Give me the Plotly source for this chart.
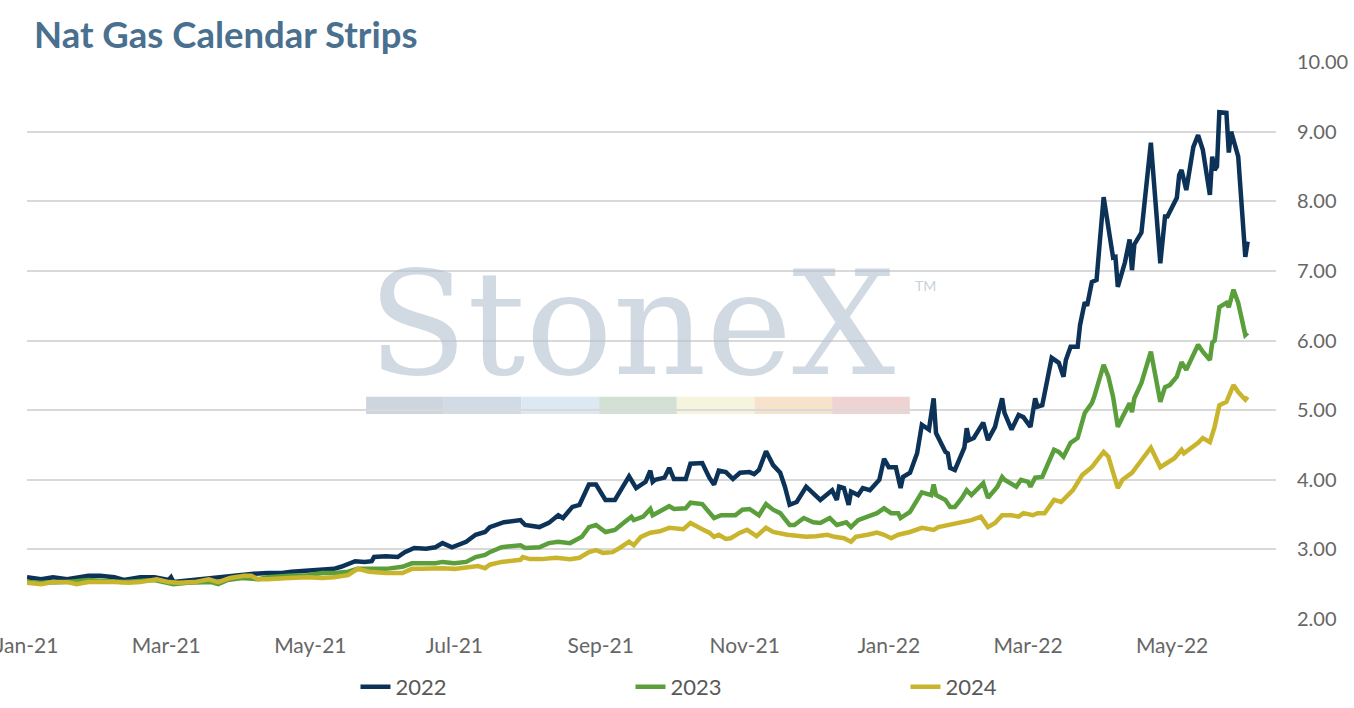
import plotly.graph_objects as go

# Nat gas calendar strip settlements
dates_2022 = [
    "2021-01-01", "2021-01-07", "2021-01-12", "2021-01-18", "2021-01-27", "2021-02-01",
    "2021-02-07", "2021-02-11", "2021-02-18", "2021-02-24", "2021-03-02", "2021-03-03",
    "2021-03-04", "2021-03-10", "2021-03-16", "2021-03-21", "2021-03-27", "2021-04-02",
    "2021-04-07", "2021-04-13", "2021-04-19", "2021-04-23", "2021-04-30", "2021-05-06",
    "2021-05-11", "2021-05-14", "2021-05-20", "2021-05-24", "2021-05-27", "2021-05-28",
    "2021-06-02", "2021-06-07", "2021-06-10", "2021-06-14", "2021-06-19", "2021-06-23",
    "2021-06-26", "2021-06-30", "2021-07-06", "2021-07-10", "2021-07-14", "2021-07-16",
    "2021-07-22", "2021-07-29", "2021-07-31", "2021-08-06", "2021-08-10", "2021-08-14",
    "2021-08-16", "2021-08-20", "2021-08-23", "2021-08-27", "2021-08-30", "2021-09-03",
    "2021-09-07", "2021-09-10", "2021-09-13", "2021-09-16", "2021-09-20", "2021-09-22",
    "2021-09-23", "2021-09-24", "2021-09-28", "2021-09-30", "2021-10-02", "2021-10-07",
    "2021-10-08", "2021-10-09", "2021-10-14", "2021-10-17", "2021-10-19", "2021-10-21",
    "2021-10-24", "2021-10-27", "2021-10-30", "2021-11-03", "2021-11-05", "2021-11-07",
    "2021-11-10", "2021-11-13", "2021-11-16", "2021-11-18", "2021-11-20", "2021-11-23",
    "2021-11-27", "2021-11-30", "2021-12-03", "2021-12-08", "2021-12-10", "2021-12-11",
    "2021-12-13", "2021-12-15", "2021-12-16", "2021-12-19", "2021-12-21", "2021-12-24",
    "2021-12-28", "2021-12-30", "2022-01-01", "2022-01-04", "2022-01-06", "2022-01-07",
    "2022-01-10", "2022-01-13", "2022-01-15", "2022-01-18", "2022-01-20", "2022-01-21",
    "2022-01-25", "2022-01-26", "2022-01-27", "2022-01-29", "2022-02-02", "2022-02-03",
    "2022-02-04", "2022-02-06", "2022-02-10", "2022-02-12", "2022-02-15", "2022-02-16",
    "2022-02-18", "2022-02-19", "2022-02-22", "2022-02-25", "2022-02-27", "2022-03-02",
    "2022-03-04", "2022-03-05", "2022-03-07", "2022-03-11", "2022-03-14", "2022-03-16",
    "2022-03-17", "2022-03-19", "2022-03-22", "2022-03-23", "2022-03-25", "2022-03-26",
    "2022-03-28", "2022-03-30", "2022-04-02", "2022-04-06", "2022-04-07", "2022-04-08",
    "2022-04-10", "2022-04-11", "2022-04-13", "2022-04-14", "2022-04-15", "2022-04-18",
    "2022-04-22", "2022-04-26", "2022-04-28", "2022-04-29", "2022-05-03", "2022-05-04",
    "2022-05-05", "2022-05-07", "2022-05-10", "2022-05-12", "2022-05-14", "2022-05-17",
    "2022-05-18", "2022-05-19", "2022-05-20", "2022-05-21", "2022-05-24", "2022-05-25",
    "2022-05-26", "2022-05-27", "2022-05-29", "2022-06-01", "2022-06-02",
]
strip_2022 = [
    2.60, 2.57, 2.60, 2.57, 2.62, 2.62,
    2.60, 2.56, 2.60, 2.60, 2.56, 2.60,
    2.53, 2.55, 2.57, 2.59, 2.62, 2.63,
    2.65, 2.66, 2.66, 2.68, 2.69, 2.70,
    2.72, 2.75, 2.83, 2.82, 2.83, 2.89,
    2.90, 2.89, 2.96, 3.02, 3.01, 3.03,
    3.09, 3.03, 3.11, 3.21, 3.25, 3.32,
    3.39, 3.42, 3.35, 3.32, 3.38, 3.49,
    3.45, 3.61, 3.64, 3.93, 3.93, 3.71,
    3.71, 3.88, 4.05, 3.88, 3.97, 4.13,
    3.97, 4.00, 4.03, 4.17, 4.01, 4.01,
    4.10, 4.23, 4.24, 4.03, 3.93, 4.13,
    4.11, 4.01, 4.10, 4.11, 4.08, 4.14,
    4.41, 4.21, 4.10, 3.90, 3.64, 3.68,
    3.90, 3.81, 3.71, 3.85, 3.71, 3.90,
    3.88, 3.64, 3.83, 3.78, 3.88, 3.85,
    4.00, 4.30, 4.18, 4.18, 3.88, 4.04,
    4.10, 4.38, 4.79, 4.72, 5.17, 4.67,
    4.40, 4.38, 4.17, 4.14, 4.46, 4.74,
    4.57, 4.60, 4.82, 4.57, 4.76, 4.90,
    5.17, 4.96, 4.72, 4.93, 4.90, 4.76,
    5.17, 5.05, 5.07, 5.75, 5.68, 5.48,
    5.72, 5.91, 5.91, 6.22, 6.55, 6.50,
    6.84, 6.87, 8.06, 7.19, 7.20, 6.77,
    7.00, 7.12, 7.45, 7.01, 7.38, 7.55,
    8.84, 7.11, 7.78, 7.78, 8.05, 8.38,
    8.45, 8.16, 8.78, 8.95, 8.74, 8.09,
    8.64, 8.45, 8.50, 9.28, 9.27, 8.70,
    9.00, 8.88, 8.64, 7.20, 7.42,
]

dates_2023 = [
    "2021-01-01", "2021-01-07", "2021-01-18", "2021-01-27", "2021-02-11", "2021-02-24",
    "2021-03-04", "2021-03-10", "2021-03-20", "2021-03-23", "2021-03-27", "2021-04-02",
    "2021-04-09", "2021-04-13", "2021-04-22", "2021-04-30", "2021-05-06", "2021-05-11",
    "2021-05-17", "2021-05-21", "2021-05-26", "2021-06-02", "2021-06-09", "2021-06-13",
    "2021-06-17", "2021-06-23", "2021-06-26", "2021-07-01", "2021-07-06", "2021-07-10",
    "2021-07-14", "2021-07-16", "2021-07-21", "2021-07-29", "2021-07-31", "2021-08-06",
    "2021-08-10", "2021-08-14", "2021-08-19", "2021-08-24", "2021-08-27", "2021-08-30",
    "2021-09-03", "2021-09-07", "2021-09-11", "2021-09-14", "2021-09-15", "2021-09-19",
    "2021-09-22", "2021-09-23", "2021-09-30", "2021-10-02", "2021-10-07", "2021-10-09",
    "2021-10-14", "2021-10-17", "2021-10-19", "2021-10-22", "2021-10-28", "2021-10-31",
    "2021-11-03", "2021-11-07", "2021-11-10", "2021-11-13", "2021-11-16", "2021-11-20",
    "2021-11-22", "2021-11-26", "2021-11-30", "2021-12-03", "2021-12-07", "2021-12-10",
    "2021-12-14", "2021-12-16", "2021-12-19", "2021-12-23", "2021-12-27", "2021-12-30",
    "2022-01-02", "2022-01-05", "2022-01-06", "2022-01-10", "2022-01-15", "2022-01-19",
    "2022-01-20", "2022-01-21", "2022-01-25", "2022-01-27", "2022-01-29", "2022-02-01",
    "2022-02-03", "2022-02-05", "2022-02-10", "2022-02-12", "2022-02-16", "2022-02-18",
    "2022-02-19", "2022-02-24", "2022-02-26", "2022-03-01", "2022-03-02", "2022-03-04",
    "2022-03-07", "2022-03-12", "2022-03-14", "2022-03-16", "2022-03-19", "2022-03-22",
    "2022-03-25", "2022-03-28", "2022-03-29", "2022-04-02", "2022-04-04", "2022-04-06",
    "2022-04-08", "2022-04-10", "2022-04-13", "2022-04-14", "2022-04-15", "2022-04-18",
    "2022-04-22", "2022-04-26", "2022-04-28", "2022-04-30", "2022-05-03", "2022-05-05",
    "2022-05-07", "2022-05-12", "2022-05-14", "2022-05-17", "2022-05-18", "2022-05-19",
    "2022-05-21", "2022-05-24", "2022-05-25", "2022-05-27", "2022-05-29", "2022-06-01",
    "2022-06-02",
]
strip_2023 = [
    2.53, 2.52, 2.53, 2.56, 2.53, 2.56,
    2.50, 2.52, 2.53, 2.50, 2.56, 2.59,
    2.57, 2.60, 2.62, 2.63, 2.66, 2.66,
    2.68, 2.72, 2.72, 2.72, 2.75, 2.80,
    2.80, 2.80, 2.82, 2.80, 2.82, 2.89,
    2.92, 2.96, 3.03, 3.06, 3.02, 3.03,
    3.09, 3.11, 3.09, 3.18, 3.32, 3.35,
    3.25, 3.28, 3.39, 3.47, 3.42, 3.47,
    3.58, 3.49, 3.62, 3.58, 3.59, 3.67,
    3.65, 3.52, 3.45, 3.49, 3.49, 3.57,
    3.58, 3.49, 3.65, 3.57, 3.52, 3.35,
    3.35, 3.45, 3.39, 3.38, 3.45, 3.35,
    3.39, 3.32, 3.42, 3.47, 3.52, 3.59,
    3.52, 3.52, 3.45, 3.54, 3.82, 3.78,
    3.93, 3.78, 3.71, 3.61, 3.61, 3.74,
    3.85, 3.78, 3.95, 3.74, 3.90, 4.04,
    4.00, 3.90, 4.00, 3.97, 3.90, 4.03,
    4.04, 4.43, 4.40, 4.33, 4.53, 4.60,
    4.96, 5.10, 5.19, 5.65, 5.48, 5.19,
    4.76, 4.90, 5.10, 4.97, 5.17, 5.39,
    5.84, 5.12, 5.33, 5.36, 5.48, 5.69,
    5.58, 5.94, 5.84, 5.72, 5.97, 6.00,
    6.48, 6.54, 6.48, 6.73, 6.54, 6.08,
    6.11,
]

dates_2024 = [
    "2021-01-01", "2021-01-07", "2021-01-12", "2021-01-18", "2021-01-22", "2021-01-27",
    "2021-02-07", "2021-02-13", "2021-02-18", "2021-02-25", "2021-03-02", "2021-03-06",
    "2021-03-13", "2021-03-19", "2021-03-23", "2021-03-28", "2021-04-03", "2021-04-06",
    "2021-04-09", "2021-04-13", "2021-04-22", "2021-04-30", "2021-05-06", "2021-05-11",
    "2021-05-17", "2021-05-21", "2021-05-26", "2021-06-02", "2021-06-09", "2021-06-13",
    "2021-06-17", "2021-06-23", "2021-06-26", "2021-07-01", "2021-07-11", "2021-07-14",
    "2021-07-16", "2021-07-21", "2021-07-29", "2021-07-30", "2021-08-02", "2021-08-07",
    "2021-08-13", "2021-08-19", "2021-08-23", "2021-08-27", "2021-08-30", "2021-09-02",
    "2021-09-06", "2021-09-09", "2021-09-13", "2021-09-15", "2021-09-18", "2021-09-22",
    "2021-09-26", "2021-09-30", "2021-10-06", "2021-10-09", "2021-10-11", "2021-10-14",
    "2021-10-17", "2021-10-19", "2021-10-21", "2021-10-24", "2021-10-26", "2021-10-30",
    "2021-11-02", "2021-11-06", "2021-11-10", "2021-11-13", "2021-11-19", "2021-11-23",
    "2021-11-27", "2021-12-01", "2021-12-06", "2021-12-09", "2021-12-13", "2021-12-16",
    "2021-12-18", "2021-12-23", "2021-12-27", "2021-12-30", "2022-01-02", "2022-01-05",
    "2022-01-10", "2022-01-15", "2022-01-20", "2022-01-22", "2022-01-27", "2022-02-01",
    "2022-02-05", "2022-02-09", "2022-02-12", "2022-02-15", "2022-02-18", "2022-02-22",
    "2022-02-25", "2022-02-27", "2022-03-03", "2022-03-05", "2022-03-08", "2022-03-12",
    "2022-03-15", "2022-03-20", "2022-03-22", "2022-03-24", "2022-03-28", "2022-04-02",
    "2022-04-04", "2022-04-08", "2022-04-10", "2022-04-14", "2022-04-18", "2022-04-22",
    "2022-04-26", "2022-04-29", "2022-05-02", "2022-05-05", "2022-05-06", "2022-05-12",
    "2022-05-14", "2022-05-17", "2022-05-19", "2022-05-21", "2022-05-24", "2022-05-27",
    "2022-05-29", "2022-06-01", "2022-06-02",
]
strip_2024 = [
    2.52, 2.50, 2.53, 2.53, 2.50, 2.53,
    2.53, 2.52, 2.53, 2.57, 2.53, 2.52,
    2.53, 2.57, 2.53, 2.59, 2.62, 2.62,
    2.57, 2.57, 2.59, 2.60, 2.59, 2.60,
    2.63, 2.72, 2.68, 2.66, 2.66, 2.72,
    2.72, 2.73, 2.73, 2.72, 2.76, 2.73,
    2.78, 2.82, 2.85, 2.89, 2.86, 2.86,
    2.88, 2.86, 2.88, 2.96, 2.99, 2.95,
    2.96, 3.02, 3.11, 3.06, 3.18, 3.24,
    3.26, 3.31, 3.29, 3.38, 3.35, 3.29,
    3.24, 3.18, 3.21, 3.15, 3.16, 3.24,
    3.28, 3.19, 3.31, 3.25, 3.21, 3.19,
    3.18, 3.19, 3.21, 3.18, 3.16, 3.11,
    3.18, 3.21, 3.24, 3.21, 3.16, 3.21,
    3.25, 3.31, 3.28, 3.32, 3.35, 3.39,
    3.42, 3.47, 3.32, 3.38, 3.49, 3.49,
    3.47, 3.52, 3.49, 3.52, 3.52, 3.71,
    3.68, 3.85, 3.95, 4.07, 4.18, 4.40,
    4.33, 3.88, 4.00, 4.10, 4.28, 4.46,
    4.18, 4.24, 4.31, 4.43, 4.38, 4.53,
    4.60, 4.54, 4.76, 5.07, 5.12, 5.36,
    5.26, 5.15, 5.19,
]

series = [
    ("2022", dates_2022, strip_2022, "#0c3357"),
    ("2023", dates_2023, strip_2023, "#5b9f3c"),
    ("2024", dates_2024, strip_2024, "#c9b52d"),
]

# watermark colour bar
band_colors = ["#cdd5de", "#d0dbe6", "#dce9f3", "#d3e1d5", "#f5f4dc", "#f7e3cb", "#efd2d2"]

fig = go.Figure()
for name, d, v, c in series:
    fig.add_trace(go.Scatter(x=d, y=v, mode="lines", name=name,
                             line=dict(color=c, width=4.5)))

# StoneX watermark
bx0, bx1 = 0.2715, 0.7068
w = (bx1 - bx0) / len(band_colors)
for i, col in enumerate(band_colors):
    fig.add_shape(type="rect", xref="paper", yref="paper",
                  x0=bx0 + i * w, x1=bx0 + (i + 1) * w, y0=0.368, y1=0.399,
                  fillcolor=col, line_width=0, layer="below")
fig.add_annotation(text="StoneX", xref="paper", yref="paper", x=0.484, y=0.530,
                   xanchor="center", yanchor="middle", showarrow=False,
                   font=dict(family="DejaVu Serif", size=145, color="rgba(178,191,206,0.6)"))
fig.add_annotation(text="TM", xref="paper", yref="paper", x=0.709, y=0.598,
                   xanchor="left", yanchor="middle", showarrow=False,
                   font=dict(family="Lato", size=14, color="#c9d1da"))

fig.update_layout(
    width=1354, height=708,
    margin=dict(l=27, r=78, t=62, b=89, autoexpand=False),
    paper_bgcolor="white", plot_bgcolor="white",
    font=dict(family="Lato", size=21, color="#666666"),
    title=dict(text="Nat Gas Calendar Strips", x=34 / 1354, xanchor="left",
               xref="container", yref="container", y=1 - 35 / 708, yanchor="middle",
               pad=dict(l=0, r=0, t=0, b=0),
               font=dict(family="Lato", size=36.5, color="#4a7090", weight="bold")),
    showlegend=True,
    legend=dict(orientation="h", x=0.263, xanchor="left", y=-0.122, yanchor="middle",
                entrywidth=230, entrywidthmode="pixels",
                font=dict(size=22, color="#595959")),
    xaxis=dict(type="date", range=["2021-01-01", "2022-06-14"],
               tickvals=["2021-01-01", "2021-03-01", "2021-05-01", "2021-07-01",
                         "2021-09-01", "2021-11-01", "2022-01-01", "2022-03-01",
                         "2022-05-01"],
               tickformat="%b-%y", showgrid=False, zeroline=False, showline=False,
               ticks="", ticklabelstandoff=12, ticklabeloverflow="allow",
               automargin=False),
    yaxis=dict(side="right", range=[2, 10], dtick=1, tickformat=".2f",
               tickfont=dict(size=20),
               showgrid=True, gridcolor="#d9d9d9", gridwidth=1.5, zeroline=False,
               ticks="", ticklabelstandoff=20, automargin=False),
)

# the page's default body margin would shift the figure by 8px
fig.write_html("out.html", config={"displayModeBar": False},
               post_script="document.body.style.margin='0';")
